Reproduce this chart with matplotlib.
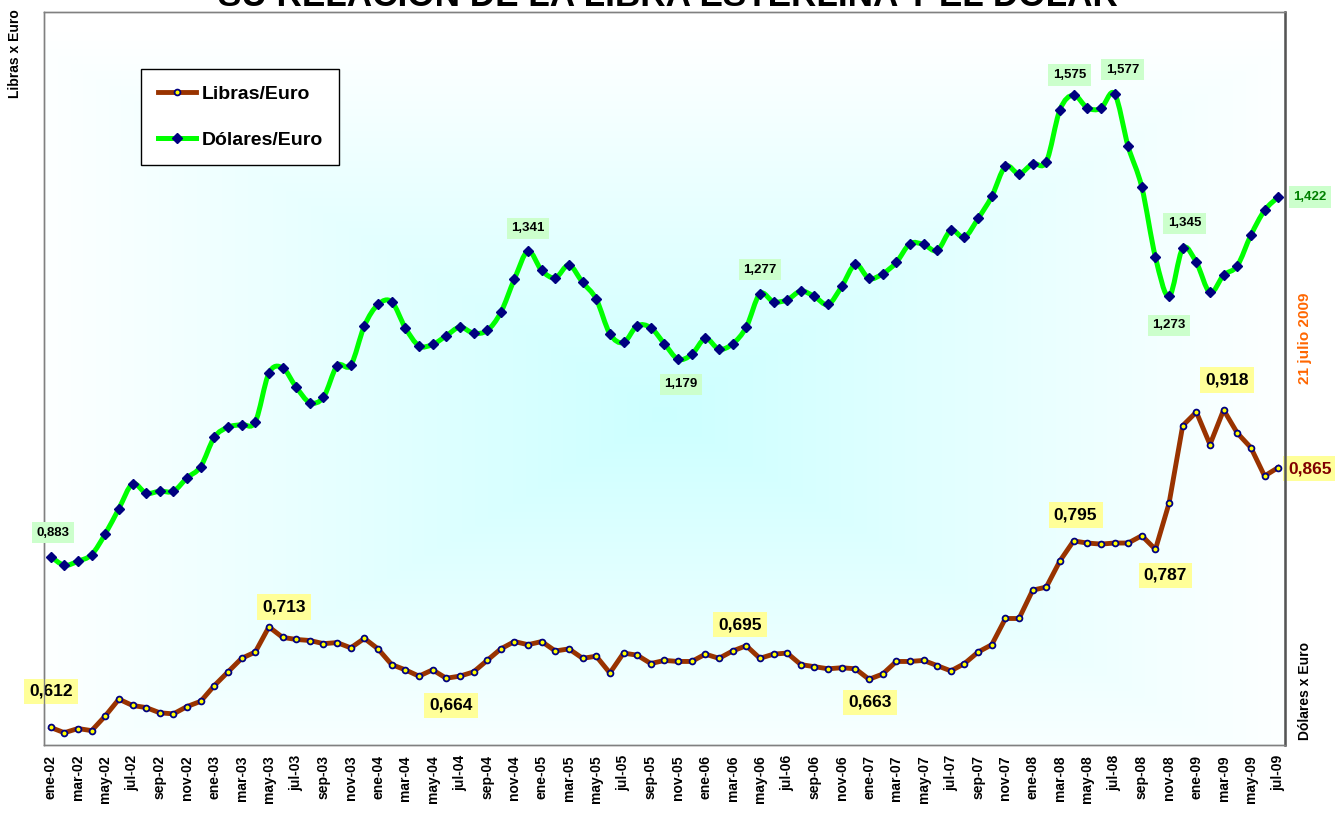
import matplotlib.pyplot as plt
import numpy as np
from matplotlib.lines import Line2D
from matplotlib.patches import PathPatch
from matplotlib.path import Path

plt.rcParams['font.family'] = ['Liberation Sans', 'DejaVu Sans']
plt.rcParams['font.weight'] = 'bold'

# Meses (ene-02 ... jul-09)
meses = ['ene', 'feb', 'mar', 'abr', 'may', 'jun', 'jul', 'ago', 'sep', 'oct', 'nov', 'dic']
fechas = [f'{m}-{a:02d}' for a in range(2, 10) for m in meses][:91]

libras = [
    0.617, 0.612, 0.616, 0.614, 0.628, 0.644, 0.638, 0.636, 0.631, 0.630, 0.637, 0.642,
    0.657, 0.670, 0.683, 0.689, 0.713, 0.703, 0.701, 0.700, 0.697, 0.698, 0.693, 0.702,
    0.692, 0.677, 0.672, 0.666, 0.672, 0.664, 0.666, 0.670, 0.681, 0.692, 0.699, 0.696,
    0.699, 0.690, 0.692, 0.683, 0.685, 0.669, 0.688, 0.686, 0.678, 0.681, 0.680, 0.680,
    0.687, 0.683, 0.690, 0.695, 0.683, 0.687, 0.688, 0.677, 0.675, 0.673, 0.674, 0.673,
    0.663, 0.668, 0.680, 0.680, 0.681, 0.676, 0.671, 0.678, 0.689, 0.696, 0.721, 0.721,
    0.748, 0.751, 0.776, 0.795, 0.793, 0.792, 0.793, 0.793, 0.800, 0.787, 0.831, 0.905,
    0.918, 0.887, 0.920, 0.898, 0.884, 0.857, 0.865,
]

dolares = [
    0.883, 0.870, 0.876, 0.886, 0.917, 0.955, 0.992, 0.978, 0.981, 0.981, 1.001, 1.018,
    1.062, 1.077, 1.081, 1.085, 1.158, 1.166, 1.137, 1.114, 1.122, 1.169, 1.170, 1.229,
    1.261, 1.265, 1.226, 1.199, 1.201, 1.214, 1.227, 1.218, 1.222, 1.249, 1.299, 1.341,
    1.312, 1.301, 1.320, 1.294, 1.269, 1.217, 1.204, 1.229, 1.226, 1.202, 1.179, 1.186,
    1.210, 1.194, 1.202, 1.227, 1.277, 1.265, 1.268, 1.281, 1.273, 1.261, 1.288, 1.321,
    1.300, 1.307, 1.324, 1.352, 1.351, 1.342, 1.372, 1.362, 1.390, 1.423, 1.468, 1.457,
    1.472, 1.475, 1.553, 1.575, 1.556, 1.555, 1.577, 1.498, 1.437, 1.332, 1.273, 1.345,
    1.324, 1.279, 1.305, 1.319, 1.365, 1.402, 1.422,
]

# etiquetas de datos (indice, texto)
etiquetas_libras = [(0, '0,612'), (16, '0,713'), (29, '0,664'), (51, '0,695'), (60, '0,663'),
                    (75, '0,795'), (81, '0,787'), (86, '0,918'), (90, '0,865')]
etiquetas_dolares = [(0, '0,883'), (35, '1,341'), (46, '1,179'), (52, '1,277'), (75, '1,575'),
                     (78, '1,577'), (82, '1,273'), (83, '1,345'), (90, '1,422')]


def curva_suave(x, y):
    pts = np.column_stack([x, y])
    n = len(pts)
    verts = [pts[0]]
    codes = [Path.MOVETO]
    for i in range(n - 1):
        p0 = pts[max(i - 1, 0)]
        p1 = pts[i]
        p2 = pts[i + 1]
        p3 = pts[min(i + 2, n - 1)]
        verts += [p1 + (p2 - p0) / 6, p2 - (p3 - p1) / 6, p2]
        codes += [Path.CURVE4] * 3
    return Path(verts, codes)


x = np.arange(len(fechas))

fig = plt.figure(figsize=(13.35, 8.23), dpi=100)
fig.subplots_adjust(left=44.3 / 1335, right=1285 / 1335, top=1 - 11.7 / 823, bottom=1 - 745.3 / 823)
ax = fig.add_subplot(111)

# fondo degradado desde el centro
gx, gy = np.meshgrid(np.linspace(0, 1, 600), np.linspace(0, 1, 400))
t = np.clip(np.maximum(np.abs(gx - 0.5), np.abs(gy - 0.45)) / 0.52, 0, 1)
centro = np.array([0.80, 1.0, 1.0])
img = centro * (1 - t[..., None]) + np.ones(3) * t[..., None]
ax.imshow(img, extent=(0, 1, 0, 1), transform=ax.transAxes, origin='lower',
          aspect='auto', zorder=0, interpolation='bilinear')

ax.plot(x, libras, color='#993300', lw=3.5, marker='o', ms=4.2, mfc='#ffff00',
        mec='#000080', mew=1.3, zorder=3)
ax.set_xlim(-0.47, 90.5)
ax.set_ylim(0.6, 1.3)

ax2 = ax.twinx()
ax2.add_patch(PathPatch(curva_suave(x, dolares), fill=False, ec='#00ff00', lw=3.6, zorder=3))
ax2.plot(x, dolares, ls='none', marker='D', ms=4.8, color='#000080', zorder=4)
ax2.set_ylim(0.6, 1.7)
ax2.set_xlim(-0.47, 90.5)

for a in (ax, ax2):
    a.set_yticks([])
    for s in a.spines.values():
        s.set_color('#808080')
        s.set_linewidth(1)
ax2.spines['right'].set_color('#555555')
ax2.spines['right'].set_linewidth(1.8)

ax.set_xticks(x[::2])
ax.set_xticklabels(fechas[::2], rotation=90, fontsize=10, fontweight='bold')
ax.tick_params(axis='x', length=0, pad=7)

desp_libras = [(0, 36), (15, 20), (5, -27), (-6, 21), (1, -23), (2, 26), (10, -26), (3, 30), (32, -1)]
for (i, txt), (dx, dy) in zip(etiquetas_libras, desp_libras):
    col = '#800000' if i == len(x) - 1 else 'black'
    ax.annotate(txt, xy=(i, libras[i]), xytext=(dx, dy), textcoords='offset pixels',
                ha='center', va='center', fontsize=12.5, fontweight='bold', color=col,
                bbox=dict(boxstyle='square,pad=0.3', fc='#ffff99', ec='none'), zorder=5)

desp_dolares = [(2, 24), (0, 23), (3, -25), (0, 24), (-4, 20), (8, 24), (0, -29), (2, 25), (32, 0)]
for (i, txt), (dx, dy) in zip(etiquetas_dolares, desp_dolares):
    col = '#008000' if i == len(x) - 1 else 'black'
    ax2.annotate(txt, xy=(i, dolares[i]), xytext=(dx, dy), textcoords='offset pixels',
                 ha='center', va='center', fontsize=9.5, fontweight='bold', color=col,
                 bbox=dict(boxstyle='square,pad=0.35', fc='#ccffcc', ec='none'), zorder=5)

handles = [
    Line2D([], [], color='#993300', lw=3.5, marker='o', ms=4.2, mfc='#ffff00', mec='#000080', mew=1.3),
    Line2D([], [], color='#00ff00', lw=3.6, marker='D', ms=4.8, mfc='#000080', mec='#000080'),
]
leg = ax2.legend(handles, ['Libras/Euro', 'Dólares/Euro'], loc='upper left',
                 bbox_to_anchor=(0.078, 0.922), borderaxespad=0,
                 prop={'weight': 'bold', 'size': 14}, handlelength=2.0, handletextpad=0.25,
                 labelspacing=1.45, borderpad=0.85, fancybox=False, framealpha=1,
                 edgecolor='black', facecolor='white', numpoints=1)
leg.get_frame().set_linewidth(1)

fig.text(0.5, 1 - 6 / 823, 'SU RELACIÓN DE LA LIBRA ESTERLINA Y EL DÓLAR', ha='center',
         va='baseline', fontsize=25.3, fontweight='bold')
fig.text(15 / 1335, 1 - 9 / 823, 'Libras x Euro', rotation=90, ha='center', va='top',
         fontsize=10, fontweight='bold')
fig.text(1305 / 1335, 1 - 740 / 823, 'Dólares x Euro', rotation=90, ha='center', va='bottom',
         fontsize=10, fontweight='bold')
fig.text(1305 / 1335, 1 - 338 / 823, '21 julio 2009', rotation=90, ha='center', va='center',
         fontsize=11, fontweight='bold', color='#ff6600')

fig.savefig('out.png', dpi=100)
